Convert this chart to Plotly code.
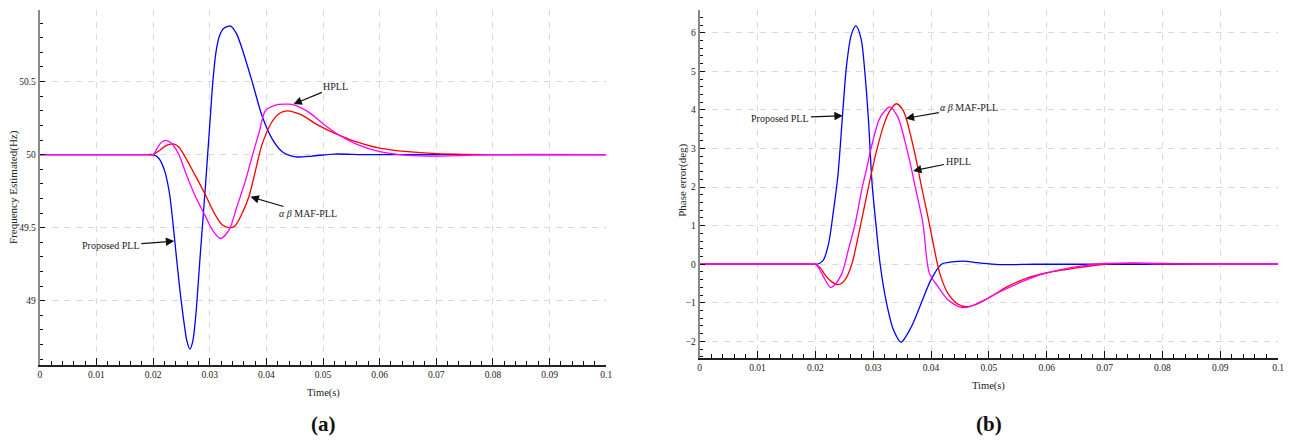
import plotly.graph_objects as go

# ---------------- data ----------------
# (a) Frequency estimated (Hz)
t_fp = [0, 0.019, 0.020, 0.0210, 0.0220, 0.0229, 0.0237, 0.0246, 0.0255, 0.0260, 0.0265, 0.0270, 0.0275,
        0.0284, 0.0292, 0.0300, 0.0306, 0.0311, 0.0317, 0.0325, 0.0337, 0.0347, 0.0357, 0.0375, 0.0392,
        0.0410, 0.0428, 0.0452, 0.0480, 0.0520, 0.0570, 0.0650, 0.1]
f_proposed = [50, 50, 50, 49.975, 49.894, 49.734, 49.46, 49.12, 48.84, 48.72, 48.668, 48.72, 48.88,
              49.35, 49.76, 50.2, 50.52, 50.70, 50.81, 50.865, 50.88, 50.83, 50.727, 50.499, 50.27,
              50.11, 50.02, 49.985, 49.99, 50.004, 50.0, 50.0, 50.0]

t_fm = [0, 0.019, 0.020, 0.0210, 0.0220, 0.0229, 0.0237, 0.0246, 0.0258, 0.0270, 0.0281, 0.0293, 0.0310,
        0.0322, 0.0333, 0.0344, 0.0355, 0.0369, 0.0381, 0.0392, 0.0410, 0.0424, 0.0436, 0.0450, 0.0463,
        0.0492, 0.0521, 0.0550, 0.0600, 0.0650, 0.0700, 0.0750, 0.0800, 0.1]
f_maf = [50, 50, 50, 50.025, 50.055, 50.07, 50.072, 50.05, 49.974, 49.89, 49.81, 49.72, 49.586,
         49.52, 49.501, 49.51, 49.58, 49.71, 49.894, 50.065, 50.225, 50.285, 50.30, 50.29, 50.27,
         50.20, 50.145, 50.10, 50.045, 50.02, 50.007, 50.002, 50.0, 50.0]

t_fh = [0, 0.019, 0.020, 0.0208, 0.0215, 0.0223, 0.0232, 0.0240, 0.0246, 0.0258, 0.0275, 0.0293, 0.0305,
        0.0319, 0.0334, 0.0348, 0.0363, 0.0375, 0.0387, 0.0398, 0.0410, 0.0422, 0.0435, 0.0445, 0.0474,
        0.0504, 0.0530, 0.0560, 0.0600, 0.0650, 0.0700, 0.0750, 0.0800, 0.1]
f_hpll = [50, 50, 50, 50.05, 50.085, 50.097, 50.08, 50.04, 49.997, 49.871, 49.711, 49.574, 49.483,
          49.426, 49.483, 49.643, 49.82, 49.99, 50.15, 50.30, 50.33, 50.344, 50.346, 50.344, 50.293,
          50.20, 50.13, 50.07, 50.02, 49.995, 49.99, 49.995, 50.0, 50.0]

# (b) Phase error (deg)
t_pp = [0, 0.019, 0.020, 0.0207, 0.0214, 0.0223, 0.0231, 0.0239, 0.0247, 0.0254, 0.0262, 0.0270, 0.0279,
        0.0286, 0.0292, 0.0298, 0.0305, 0.0312, 0.0323, 0.0335, 0.0348, 0.0366, 0.0383, 0.0400, 0.0418,
        0.0437, 0.0456, 0.0480, 0.0505, 0.0535, 0.0580, 0.1]
p_proposed = [0, 0, 0, 0.02, 0.11, 0.54, 1.35, 2.3, 3.87, 5.16, 5.94, 6.18, 5.85,
              4.90, 3.69, 2.1, 1.0, 0.0, -1.0, -1.70, -2.02, -1.62, -1.01, -0.40, 0.0,
              0.06, 0.08, 0.04, 0.005, -0.01, 0.0, 0.0]

t_pm = [0, 0.019, 0.020, 0.0209, 0.0217, 0.0228, 0.0239, 0.0251, 0.0263, 0.0274, 0.0286, 0.0296, 0.0306,
        0.0318, 0.0329, 0.0340, 0.0352, 0.0366, 0.0375, 0.0383, 0.0395, 0.0406, 0.0415, 0.0429, 0.0446,
        0.0460, 0.0480, 0.0503, 0.0532, 0.0566, 0.0601, 0.0658, 0.0700, 0.0750, 0.0800, 0.0900, 0.1]
p_maf = [0, 0, 0, -0.10, -0.28, -0.45, -0.53, -0.41, 0.0, 0.72, 1.58, 2.3, 2.95,
         3.6, 3.98, 4.16, 3.98, 3.26, 2.66, 2.05, 1.2, 0.37, -0.23, -0.75, -1.03,
         -1.10, -1.03, -0.84, -0.58, -0.36, -0.22, -0.08, 0.0, 0.03, 0.02, 0.0, 0.0]

t_ph = [0, 0.019, 0.020, 0.0208, 0.0214, 0.0226, 0.0232, 0.0246, 0.0257, 0.0269, 0.0280, 0.0289, 0.0297,
        0.0312, 0.0329, 0.0343, 0.0355, 0.0365, 0.0372, 0.0386, 0.0397, 0.0412, 0.0429, 0.0452, 0.0469,
        0.0492, 0.0521, 0.0566, 0.0601, 0.0658, 0.0700, 0.0750, 0.0800, 0.0900, 0.1]
p_hpll = [0, 0, 0, -0.15, -0.32, -0.60, -0.56, -0.23, 0.37, 1.06, 1.92, 2.5, 3.05,
          3.8, 4.08, 3.80, 3.18, 2.55, 2.05, 1.06, -0.23, -0.58, -0.92, -1.12, -1.09,
          -0.93, -0.70, -0.40, -0.22, -0.05, 0.02, 0.03, 0.01, 0.0, 0.0]

series_names = ["Proposed PLL", "αβ MAF-PLL", "HPLL"]
colors = ["#0000ff", "#ff0000", "#ff00ff"]

# ---------------- figure ----------------
W, H = 1298, 441
fig = go.Figure()

serif = "Liberation Serif"
line_w = 1.3

left_sets = [(t_fp, f_proposed), (t_fm, f_maf), (t_fh, f_hpll)]
right_sets = [(t_pp, p_proposed), (t_pm, p_maf), (t_ph, p_hpll)]
for (tx, yy), name, c in zip(left_sets, series_names, colors):
    fig.add_trace(go.Scatter(x=tx, y=yy, mode="lines", name=name, xaxis="x", yaxis="y",
                             line=dict(color=c, width=line_w, shape="spline", smoothing=0.8),
                             showlegend=False))
for (tx, yy), name, c in zip(right_sets, series_names, colors):
    fig.add_trace(go.Scatter(x=tx, y=yy, mode="lines", name=name, xaxis="x2", yaxis="y2",
                             line=dict(color=c, width=line_w, shape="spline", smoothing=0.8),
                             showlegend=False))

def px_x(p):
    return p / W

def px_y(p):
    return 1 - p / H

tickfont = dict(family=serif, size=9.5, color="#222")
grid = dict(showgrid=True, gridcolor="#dadada", griddash="6px,6px", gridwidth=1)

xcommon = dict(range=[0, 0.1], tick0=0, dtick=0.01, ticks="inside", ticklen=7, tickwidth=1,
               tickcolor="#111", showline=True, linecolor="#222", linewidth=1.5, zeroline=False,
               tickfont=tickfont, fixedrange=True,
               minor=dict(dtick=0.002, tick0=0, ticks="inside", ticklen=4, tickwidth=1,
                          tickcolor="#111", showgrid=False),
               **grid)
ycommon = dict(ticks="inside", ticklen=5, tickwidth=1, tickcolor="#111", showline=True,
               linecolor="#8a8a8a", linewidth=2, zeroline=False, tickfont=tickfont, fixedrange=True,
               **grid)

fig.update_layout(
    width=W, height=H, margin=dict(l=0, r=0, t=0, b=0),
    paper_bgcolor="white", plot_bgcolor="white", showlegend=False,
    xaxis=dict(domain=[px_x(38), px_x(608)], anchor="y", **xcommon),
    yaxis=dict(domain=[px_y(365), px_y(10)], anchor="x", range=[48.56, 50.99], tick0=0, dtick=0.5,
               minor=dict(dtick=0.1, tick0=0, ticks="inside", ticklen=3, tickwidth=1,
                          tickcolor="#111", showgrid=False),
               **ycommon),
    xaxis2=dict(domain=[px_x(702), px_x(1284)], anchor="y2", **xcommon),
    yaxis2=dict(domain=[px_y(358), px_y(10)], anchor="x2", range=[-2.43, 6.59], tick0=0, dtick=1,
                minor=dict(dtick=0.2, tick0=0, ticks="inside", ticklen=3, tickwidth=1,
                           tickcolor="#111", showgrid=False),
                **ycommon),
)

ann = []
afont = dict(family=serif, size=10, color="#222")
# axis titles
ann.append(dict(text="Time(s)", x=px_x(323), y=px_y(393), xref="paper", yref="paper",
                showarrow=False, font=dict(family=serif, size=10.5, color="#222"),
                xanchor="center", yanchor="middle"))
ann.append(dict(text="Time(s)", x=px_x(993), y=px_y(386), xref="paper", yref="paper",
                showarrow=False, font=dict(family=serif, size=10.5, color="#222"),
                xanchor="center", yanchor="middle"))
ann.append(dict(text="Frequency Estimated(Hz)", x=px_x(12), y=px_y(187), xref="paper", yref="paper",
                showarrow=False, textangle=-90, font=dict(family=serif, size=11, color="#222"),
                xanchor="center", yanchor="middle"))
ann.append(dict(text="Phase error(deg)", x=px_x(684), y=px_y(180), xref="paper", yref="paper",
                showarrow=False, textangle=-90, font=dict(family=serif, size=11, color="#222"),
                xanchor="center", yanchor="middle"))
# panel labels
ann.append(dict(text="<b>(a)</b>", x=px_x(323), y=px_y(424), xref="paper", yref="paper",
                showarrow=False, font=dict(family=serif, size=21, color="#111"),
                xanchor="center", yanchor="middle"))
ann.append(dict(text="<b>(b)</b>", x=px_x(993), y=px_y(424), xref="paper", yref="paper",
                showarrow=False, font=dict(family=serif, size=21, color="#111"),
                xanchor="center", yanchor="middle"))

def arrow(text, xref, yref, x, y, ax, ay):
    return dict(text=text, x=x, y=y, ax=ax, ay=ay, xref=xref, yref=yref, axref=xref, ayref=yref,
                showarrow=True, arrowhead=2, arrowsize=1.4, arrowwidth=1.2, arrowcolor="#111",
                font=afont, xanchor="center", yanchor="middle", standoff=0, borderpad=1)

maf_label = "<i>α β</i> MAF-PLL"
# left panel
ann.append(arrow("HPLL", "x", "y", 0.04479, 50.346, 0.05228, 50.466))
ann.append(arrow(maf_label, "x", "y", 0.03719, 49.711, 0.04728, 49.597))
ann.append(arrow("Proposed PLL", "x", "y", 0.02374, 49.408, 0.01254, 49.375))
# right panel
ann.append(arrow("Proposed PLL", "x2", "y2", 0.02474, 3.85, 0.01397, 3.79))
ann.append(arrow(maf_label, "x2", "y2", 0.03562, 3.78, 0.04662, 4.07))
ann.append(arrow("HPLL", "x2", "y2", 0.03689, 2.42, 0.04467, 2.66))

fig.update_layout(annotations=ann)
fig.write_html("out.html")
